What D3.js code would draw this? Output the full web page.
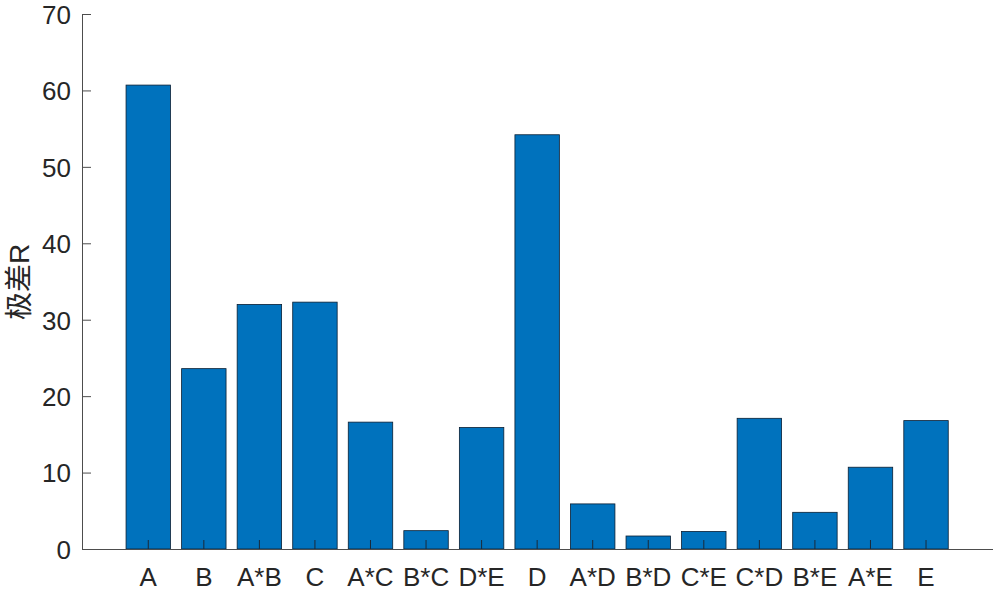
<!DOCTYPE html>
<html><head><meta charset="utf-8">
<script src="https://cdn.jsdelivr.net/npm/d3@7"></script>
<style>body{margin:0;background:#fff}svg{display:block}</style>
</head><body>
<script>
const categories = ["A","B","A*B","C","A*C","B*C","D*E","D","A*D","B*D","C*E","C*D","B*E","A*E","E"];
const values = [60.7,23.6,32.0,32.3,16.6,2.4,15.9,54.2,5.9,1.7,2.3,17.1,4.8,10.7,16.8];
const yTicks = [0,10,20,30,40,50,60,70];
const yLabel = "极差R";

const W = 997, H = 591;
const svg = d3.select("body").append("svg").attr("width", W).attr("height", H);
const axisX0 = 82, axisX1 = 993, y0 = 549, y1 = 14;
const font = "'Liberation Sans', Arial, Helvetica, sans-serif";
const txt = "#262626", axc = "#4d4d4d";

const x = d3.scaleBand().domain(categories).range([120.5, 953.8]).paddingInner(0.2).paddingOuter(0.1);
const y = d3.scaleLinear().domain([0, 70]).range([y0, y1]);

svg.append("g").selectAll("rect").data(values).join("rect")
  .attr("x", (d,i) => x(categories[i]))
  .attr("width", x.bandwidth())
  .attr("y", d => y(d))
  .attr("height", d => y(0) - y(d))
  .attr("fill", "#0072BD")
  .attr("stroke", "#0a1f33")
  .attr("stroke-width", 0.8);

// y axis
const ya = svg.append("g").attr("transform", `translate(${axisX0},0)`)
  .call(d3.axisLeft(y).tickValues(yTicks).tickSizeInner(-9).tickSizeOuter(0).tickPadding(11));
ya.select(".domain").attr("stroke", axc);
ya.selectAll(".tick line").attr("stroke", axc);
ya.selectAll("text").attr("fill", txt).style("font-size", "26px").style("font-family", font).attr("dy", "0.36em");

// x axis
const xa = svg.append("g").attr("transform", `translate(0,${y0})`)
  .call(d3.axisBottom(x).tickSizeInner(-9).tickSizeOuter(0).tickPadding(0));
xa.select(".domain").attr("d", `M${axisX0},0.5H${axisX1}`).attr("stroke", axc);
xa.selectAll(".tick line").attr("stroke", "#1a2a3a");
xa.selectAll("text").attr("fill", txt).style("font-size", "26px").style("font-family", font)
  .attr("y", 37).attr("dy", 0);

// y label
svg.append("text")
  .attr("transform", `translate(29,282) rotate(-90)`)
  .attr("text-anchor", "middle")
  .attr("fill", txt)
  .style("font-size", "28px")
  .style("font-family", "'Liberation Sans', 'Noto Sans CJK SC', sans-serif")
  .text(yLabel);
</script>
</body></html>
